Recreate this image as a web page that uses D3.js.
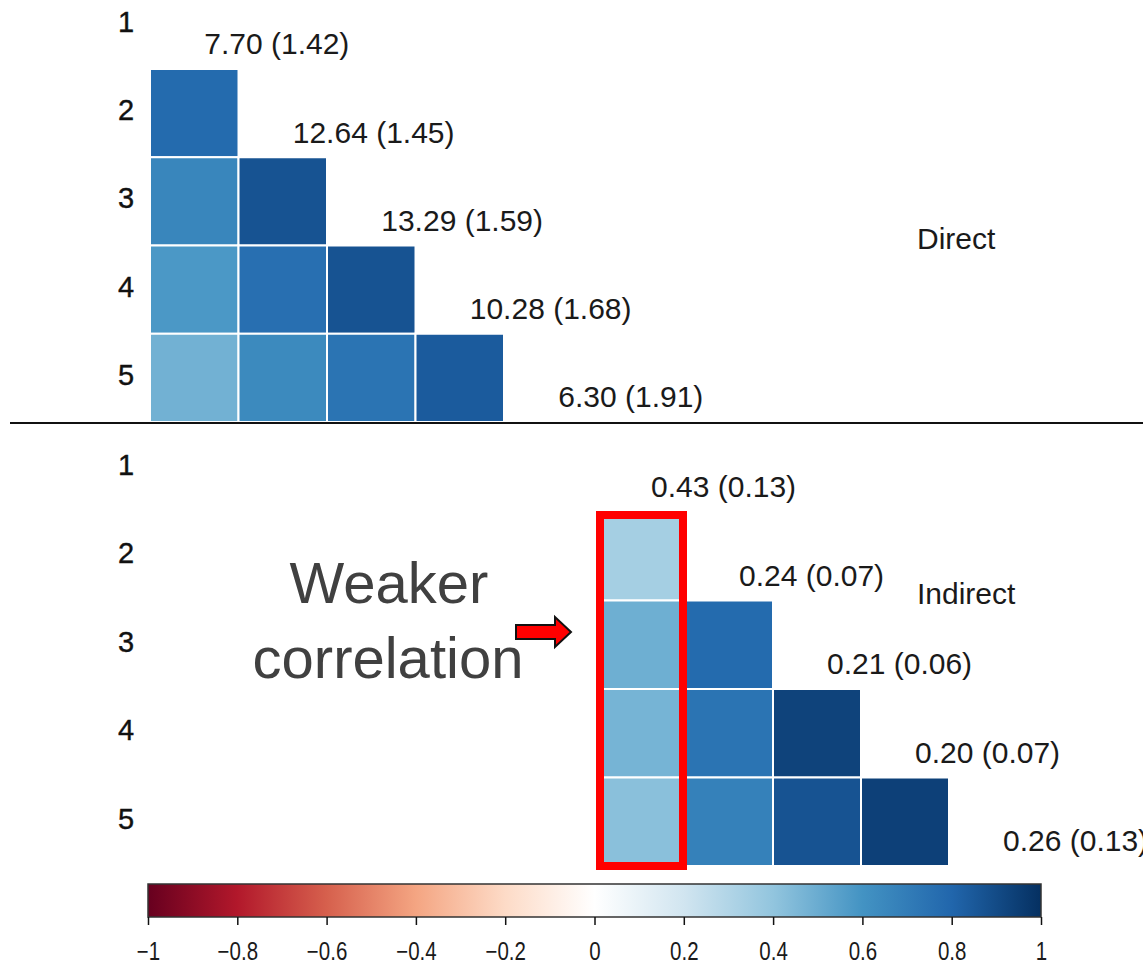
<!DOCTYPE html>
<html>
<head>
<meta charset="utf-8">
<script src="https://cdn.jsdelivr.net/npm/d3@7"></script>
<style>
  html, body { margin: 0; padding: 0; background: #ffffff; }
  svg { display: block; }
  text { font-family: "Liberation Sans", Arial, sans-serif; }
</style>
</head>
<body>
<svg id="chart" width="1143" height="965"></svg>
<script>
// ---- data -------------------------------------------------------------
const variables = ["1", "2", "3", "4", "5"];

// lower-triangle correlations, rows 2..5, columns 1..(row-1)
const directCorr = [
  [0.78],
  [0.66, 0.87],
  [0.58, 0.76, 0.87],
  [0.48, 0.64, 0.74, 0.84]
];
const indirectCorr = [
  [0.34],
  [0.49, 0.78],
  [0.47, 0.74, 0.93],
  [0.42, 0.68, 0.87, 0.94]
];

// diagonal annotations: estimate (standard error)
const directDiag = ["7.70 (1.42)", "12.64 (1.45)", "13.29 (1.59)", "10.28 (1.68)", "6.30 (1.91)"];
const indirectDiag = ["0.43 (0.13)", "0.24 (0.07)", "0.21 (0.06)", "0.20 (0.07)", "0.26 (0.13)"];

// RdBu diverging palette, -1 .. 1
const paletteColors = ["#67001F", "#B2182B", "#D6604D", "#F4A582", "#FDDBC7", "#FFFFFF",
                       "#D1E5F0", "#92C5DE", "#4393C3", "#2166AC", "#053061"];
const legendTicks = [-1, -0.8, -0.6, -0.4, -0.2, 0, 0.2, 0.4, 0.6, 0.8, 1];
const legendTickLabels = ["\u22121", "\u22120.8", "\u22120.6", "\u22120.4", "\u22120.2",
                          "0", "0.2", "0.4", "0.6", "0.8", "1"];

// ---- setup ------------------------------------------------------------
const svg = d3.select("#chart");
const color = d3.scaleLinear()
  .domain(d3.range(paletteColors.length).map(i => -1 + 2 * i / (paletteColors.length - 1)))
  .range(paletteColors)
  .interpolate(d3.interpolateRgb);

function toCells(matrix) {
  const cells = [];
  matrix.forEach((row, ri) => row.forEach((v, ci) => {
    cells.push({ row: variables[ri + 1], col: variables[ci], value: v });
  }));
  return cells;
}

// one lower-triangular correlation panel
function drawPanel(opts) {
  const x = d3.scaleBand().domain(variables).range(opts.xRange);
  const y = d3.scaleBand().domain(variables).range(opts.yRange);
  const g = svg.append("g");

  g.selectAll("rect.cell")
    .data(toCells(opts.matrix))
    .join("rect")
    .attr("class", "cell")
    .attr("x", d => x(d.col))
    .attr("y", d => y(d.row))
    .attr("width", x.bandwidth())
    .attr("height", y.bandwidth())
    .attr("fill", d => color(d.value))
    .attr("stroke", "#ffffff")
    .attr("stroke-width", 2);

  // row labels
  g.selectAll("text.rowlab")
    .data(variables)
    .join("text")
    .attr("class", "rowlab")
    .attr("x", 126)
    .attr("y", d => y(d) + y.bandwidth() / 2 - 3)
    .attr("text-anchor", "middle")
    .attr("dominant-baseline", "central")
    .attr("font-size", 29)
    .attr("fill", "#111")
    .attr("stroke", "#111")
    .attr("stroke-width", 0.4)
    .text(d => d);

  // diagonal labels
  g.selectAll("text.diag")
    .data(opts.diag)
    .join("text")
    .attr("class", "diag")
    .attr("x", (d, i) => x(variables[i]) + x.bandwidth() / 2 + 10)
    .attr("y", (d, i) => y(variables[i]) + y.bandwidth() / 2 + 19)
    .attr("dominant-baseline", "central")
    .attr("font-size", 30)
    .attr("fill", "#1a1a1a")
    .text(d => d);

  g.append("text")
    .attr("x", 917)
    .attr("y", opts.titleY)
    .attr("dominant-baseline", "central")
    .attr("font-size", 30)
    .attr("fill", "#1a1a1a")
    .text(opts.title);

  return { x, y };
}

// ---- panels -----------------------------------------------------------
drawPanel({
  matrix: directCorr, diag: directDiag, title: "Direct", titleY: 238,
  xRange: [150, 592.5], yRange: [-19.25, 422]
});

const ind = drawPanel({
  matrix: indirectCorr, diag: indirectDiag, title: "Indirect", titleY: 593,
  xRange: [597, 1037], yRange: [423.5, 866]
});

// separator between the two panels
svg.append("line")
  .attr("x1", 10).attr("x2", 1143)
  .attr("y1", 423).attr("y2", 423)
  .attr("stroke", "#111").attr("stroke-width", 2);

// ---- annotation: highlight of the first column ------------------------
const bw = ind.x.bandwidth(), bh = ind.y.bandwidth();
svg.append("rect")
  .attr("x", ind.x("1") + 3)
  .attr("y", ind.y("2") + 3)
  .attr("width", bw - 5)
  .attr("height", 4 * bh - 3)
  .attr("fill", "none")
  .attr("stroke", "#ff0000")
  .attr("stroke-width", 8);

// block arrow pointing at the highlighted column
const ax = 516, ay = 632;
svg.append("path")
  .attr("d", `M${ax},${ay - 7} L${ax + 39},${ay - 7} L${ax + 39},${ay - 15} L${ax + 55},${ay} ` +
             `L${ax + 39},${ay + 15} L${ax + 39},${ay + 7} L${ax},${ay + 7} Z`)
  .attr("fill", "#ff0000")
  .attr("stroke", "#111")
  .attr("stroke-width", 2)
  .attr("stroke-linejoin", "miter");

const note = svg.append("text")
  .attr("text-anchor", "middle")
  .attr("font-family", "'Open Sans', sans-serif")
  .attr("font-size", 58)
  .attr("fill", "#404040");
note.append("tspan").attr("x", 389).attr("y", 603).text("Weaker");
note.append("tspan").attr("x", 388).attr("y", 678).text("correlation");

// ---- colour legend ----------------------------------------------------
const lx = d3.scaleLinear().domain([-1, 1]).range([148, 1041]);
const barTop = 884, barH = 33;

const grad = svg.append("defs").append("linearGradient")
  .attr("id", "rdbu").attr("x1", "0%").attr("x2", "100%").attr("y1", "0%").attr("y2", "0%");
grad.selectAll("stop")
  .data(paletteColors)
  .join("stop")
  .attr("offset", (d, i) => (100 * i / (paletteColors.length - 1)) + "%")
  .attr("stop-color", d => d);

svg.append("rect")
  .attr("x", lx(-1)).attr("y", barTop)
  .attr("width", lx(1) - lx(-1)).attr("height", barH)
  .attr("fill", "url(#rdbu)")
  .attr("stroke", "#333").attr("stroke-width", 1.5);

const axis = d3.axisBottom(lx)
  .tickValues(legendTicks)
  .tickSize(8)
  .tickPadding(0)
  .tickFormat((d, i) => legendTickLabels[i]);

const axG = svg.append("g")
  .attr("transform", `translate(0,${barTop + barH})`)
  .call(axis);
axG.select(".domain").remove();
axG.selectAll(".tick line").attr("stroke", "#111").attr("stroke-width", 1.5);
axG.selectAll(".tick text")
  .attr("y", 0)
  .attr("dy", 0)
  .attr("font-family", "'Liberation Sans', Arial, sans-serif")
  .attr("font-size", 25)
  .attr("fill", "#1a1a1a")
  .attr("transform", "translate(0,34) scale(0.82,1)")
  .attr("dominant-baseline", "central");
</script>
</body>
</html>
